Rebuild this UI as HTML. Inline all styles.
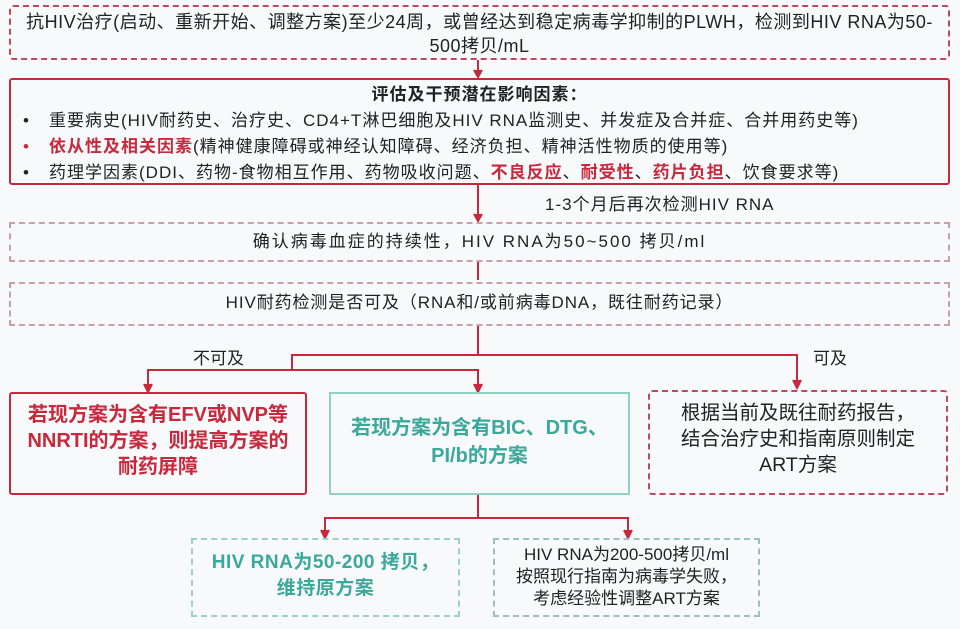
<!DOCTYPE html>
<html><head><meta charset="utf-8"><style>
body{margin:0;width:960px;height:629px;background:#f7f9fb;position:relative;overflow:hidden;font-family:"Liberation Sans","Noto Sans CJK SC",sans-serif;color:#222}
.b{position:absolute;box-sizing:border-box;text-align:center}
.t{position:absolute;white-space:nowrap}
.red{color:#c8283c}
.teal{color:#3aa89a}
</style></head><body>
<svg width="960" height="629" style="position:absolute;left:0;top:0">
<g stroke="#c8283c" stroke-width="2" fill="none">
<path d="M478 60 V76"/><path d="M474 70 L478 77 L482 70" fill="#c8283c"/>
<path d="M478 185 V220"/><path d="M474 214 L478 221 L482 214" fill="#c8283c"/>
<path d="M478 262 V280"/>
<path d="M478 326 V355 H797 V386"/><path d="M793 380 L797 388 L801 380" fill="#c8283c"/>
<path d="M478 355 H292 V370 H148 V390"/><path d="M144 384 L148 392 L152 384" fill="#c8283c"/>
<path d="M292 370 H478 V390"/><path d="M474 384 L478 392 L482 384" fill="#c8283c"/>
<path d="M478 495 V518 H325 V536"/><path d="M321 530 L325 538 L329 530" fill="#c8283c"/>
<path d="M478 518 H628 V536"/><path d="M624 530 L628 538 L632 530" fill="#c8283c"/>
</g>
</svg>
<div class="b" style="left:9px;top:5px;width:941px;height:55px;border:2px dashed #c0485e;border-radius:4px;font-size:18px;letter-spacing:0.5px;line-height:24px;padding-top:3px">抗HIV治疗(启动、重新开始、调整方案)至少24周，或曾经达到稳定病毒学抑制的PLWH，检测到HIV RNA为50-<br>500拷贝/mL</div>
<div class="b" style="left:9px;top:78px;width:941px;height:107px;border:2px solid #c8283c;border-radius:3px;text-align:left;font-size:17px;letter-spacing:1px;line-height:26px;padding-top:2px;white-space:nowrap">
<div style="text-align:center;font-weight:bold">评估及干预潜在影响因素：</div>
<div><span style="display:inline-block;width:38px;padding-left:12px;box-sizing:border-box">•</span>重要病史(HIV耐药史、治疗史、CD4+T淋巴细胞及HIV RNA监测史、并发症及合并症、合并用药史等)</div>
<div><span class="red" style="display:inline-block;width:38px;padding-left:12px;box-sizing:border-box">•</span><b class="red">依从性及相关因素</b>(精神健康障碍或神经认知障碍、经济负担、精神活性物质的使用等)</div>
<div><span style="display:inline-block;width:38px;padding-left:12px;box-sizing:border-box">•</span>药理学因素(DDI、药物-食物相互作用、药物吸收问题、<b class="red">不良反应</b>、<b class="red">耐受性</b>、<b class="red">药片负担</b>、饮食要求等)</div>
</div>
<div class="t" style="left:545px;top:190px;font-size:17px;letter-spacing:1px">1-3个月后再次检测HIV RNA</div>
<div class="b" style="left:9px;top:222px;width:941px;height:40px;border:2px dashed #c9a0a8;font-size:17px;letter-spacing:2px;line-height:36px">确认病毒血症的持续性，HIV RNA为50~500 拷贝/ml</div>
<div class="b" style="left:9px;top:282px;width:941px;height:44px;border:2px dashed #c9a0a8;font-size:17px;letter-spacing:0.9px;line-height:38px">HIV耐药检测是否可及（RNA和/或前病毒DNA，既往耐药记录）</div>
<div class="t" style="left:193px;top:344px;font-size:17px">不可及</div>
<div class="t" style="left:813px;top:344px;font-size:17px">可及</div>
<div class="b red" style="left:9px;top:392px;width:298px;height:103px;border:2px solid #c8283c;border-radius:3px;font-size:20px;font-weight:bold;line-height:26px;padding-top:8px;white-space:nowrap">若现方案为含有EFV或NVP等<br>NNRTI的方案，则提高方案的<br>耐药屏障</div>
<div class="b teal" style="left:329px;top:392px;width:301px;height:103px;border:2px solid #8fd0c8;font-size:20px;font-weight:bold;line-height:28px;padding-top:20px;white-space:nowrap">若现方案为含有BIC、DTG、<br>PI/b的方案</div>
<div class="b" style="left:648px;top:390px;width:300px;height:105px;border:2px dashed #c0485e;border-radius:4px;font-size:19.5px;line-height:26px;padding-top:8px;white-space:nowrap">根据当前及既往耐药报告，<br>结合治疗史和指南原则制定<br>ART方案</div>
<div class="b teal" style="left:191px;top:538px;width:269px;height:79px;border:2px dashed #9ccfc8;font-size:19px;letter-spacing:0.5px;font-weight:bold;line-height:26px;padding-top:10px;white-space:nowrap">HIV RNA为50-200 拷贝，<br>维持原方案</div>
<div class="b" style="left:493px;top:538px;width:267px;height:79px;border:2px dashed #9cbfc0;font-size:17px;line-height:22px;padding-top:4px;white-space:nowrap">HIV RNA为200-500拷贝/ml<br>按照现行指南为病毒学失败，<br>考虑经验性调整ART方案</div>
</body></html>
